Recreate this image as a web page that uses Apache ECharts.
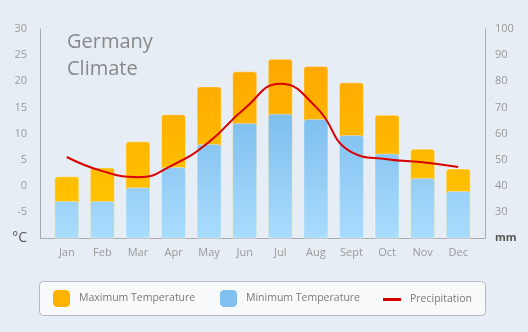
<!DOCTYPE html>
<html>
<head>
<meta charset="utf-8">
<script src="https://cdn.jsdelivr.net/npm/echarts@6/dist/echarts.min.js"></script>
<style>
html,body{margin:0;padding:0;background:#e6edf5;}
#c{width:528px;height:332px;}
</style>
</head>
<body>
<div id="c"></div>
<script>
var months = ['Jan','Feb','Mar','Apr','May','Jun','Jul','Aug','Sept','Oct','Nov','Dec'];
var maxTemp = [1.7, 3.4, 8.4, 13.6, 18.9, 21.8, 24.2, 22.8, 19.7, 13.5, 7.0, 3.2];
var minTemp = [-3.0, -3.0, -0.4, 3.5, 7.9, 11.9, 13.7, 12.7, 9.6, 6.1, 1.4, -1.1];
var precip = [51, 45.6, 43.3, 48.1, 56.8, 69.6, 79, 70.2, 52.9, 50.1, 49, 47.2];
var tempTicks = {min: -10, max: 30, interval: 5};
var precipTicks = {min: 20, max: 100, interval: 10};

var chart = echarts.init(document.getElementById('c'), null, {renderer: 'canvas'});
var FONT = '"Open Sans", sans-serif';

function grad(top, bottom) {
  return new echarts.graphic.LinearGradient(0, 29, 0, 238, [
    {offset: 0, color: top}, {offset: 1, color: bottom}
  ], true);
}
var ORANGE = ['#ffa200', '#ffc900'];
var BLUE = ['#5fa9e3', '#a9dcfd'];

function barRenderer(colors) {
  return function (params, api) {
    var top = api.coord([api.value(0), api.value(1)]);
    var base = api.coord([api.value(0), tempTicks.min]);
    var w = 24;
    return {
      type: 'rect',
      shape: {x: top[0] - w / 2, y: top[1], width: w, height: base[1] - top[1], r: [3, 3, 0, 0]},
      style: {fill: grad(colors[0], colors[1]), stroke: 'rgba(255,255,255,0.35)', lineWidth: 1}
    };
  };
}

var legendCommon = {
  orient: 'horizontal', top: 290, itemHeight: 17, itemWidth: 17, padding: 0,
  textStyle: {color: '#7a7a7a', fontSize: 10.5, fontFamily: FONT, padding: [0, 0, 0, 4]},
  selectedMode: false
};

var axisLineStyle = {color: '#a9abae', width: 1};

chart.setOption({
  backgroundColor: '#e6edf5',
  animation: false,
  textStyle: {fontFamily: FONT},
  title: {
    text: 'Germany\nClimate', left: 67, top: 29, padding: 0,
    textStyle: {color: '#888', fontSize: 20, fontWeight: 'normal', lineHeight: 27, fontFamily: FONT}
  },
  graphic: [{
    type: 'rect', left: 39, top: 281, z: -1,
    shape: {width: 446, height: 34, r: 4},
    style: {fill: '#f8f9fb', stroke: '#b5bac1', lineWidth: 1}
  }],
  legend: [
    Object.assign({}, legendCommon, {left: 53,
      data: [{name: 'Maximum Temperature', icon: 'roundRect', itemStyle: {color: '#ffb300'}}]}),
    Object.assign({}, legendCommon, {left: 220,
      data: [{name: 'Minimum Temperature', icon: 'roundRect', itemStyle: {color: '#7fc0ee'}}]}),
    Object.assign({}, legendCommon, {left: 383, itemWidth: 18, itemHeight: 3, top: 294,
      data: [{name: 'Precipitation', icon: 'rect', itemStyle: {color: '#d90000'}}]})
  ],
  grid: [
    {left: 40, right: 43, top: 29, bottom: 94, containLabel: false},
    {left: 49, right: 52, top: 29, bottom: 94, containLabel: false}
  ],
  xAxis: [{
    gridIndex: 0, type: 'category', data: months,
    axisLine: {onZero: false, lineStyle: axisLineStyle},
    axisTick: {show: false}, axisLabel: {show: false}
  }, {
    gridIndex: 1, type: 'category', data: months,
    axisLine: {show: false},
    axisTick: {show: false},
    axisLabel: {color: '#999', fontSize: 11, margin: 9, fontFamily: FONT, interval: 0}
  }],
  yAxis: [{
    gridIndex: 0, type: 'value', min: tempTicks.min, max: tempTicks.max, interval: tempTicks.interval,
    axisLine: {show: true, lineStyle: axisLineStyle},
    axisTick: {show: false}, splitLine: {show: false},
    axisLabel: {
      color: '#999', fontSize: 11, margin: 13, fontFamily: FONT,
      formatter: function (v) { return v === tempTicks.min ? '{u|°C}' : String(v); },
      rich: {u: {fontSize: 14, color: '#555', fontFamily: FONT}}
    }
  }, {
    gridIndex: 0, type: 'value', min: precipTicks.min, max: precipTicks.max, interval: precipTicks.interval,
    axisLine: {show: true, lineStyle: axisLineStyle},
    axisTick: {show: false}, splitLine: {show: false},
    axisLabel: {
      color: '#999', fontSize: 11, margin: 10, fontFamily: FONT,
      formatter: function (v) { return v === precipTicks.min ? '{u|mm}' : String(v); },
      rich: {u: {fontSize: 11, color: '#555', fontWeight: 'bold', fontFamily: FONT}}
    }
  }, {
    gridIndex: 1, type: 'value', min: tempTicks.min, max: tempTicks.max, interval: tempTicks.interval,
    show: false
  }, {
    gridIndex: 1, type: 'value', min: precipTicks.min, max: precipTicks.max, interval: precipTicks.interval,
    show: false
  }],
  series: [{
    name: 'Maximum Temperature', type: 'custom', renderItem: barRenderer(ORANGE),
    xAxisIndex: 1, yAxisIndex: 2,
    data: maxTemp.map(function (v, i) { return [i, v]; }),
    encode: {x: 0, y: 1}, itemStyle: {color: '#ffb300'}, z: 2
  }, {
    name: 'Minimum Temperature', type: 'custom', renderItem: barRenderer(BLUE),
    xAxisIndex: 1, yAxisIndex: 2,
    data: minTemp.map(function (v, i) { return [i, v]; }),
    encode: {x: 0, y: 1}, itemStyle: {color: '#7fc0ee'}, z: 3
  }, {
    name: 'Precipitation', type: 'line', xAxisIndex: 1, yAxisIndex: 3, data: precip, smooth: 0.5,
    showSymbol: false, symbol: 'none', z: 5,
    lineStyle: {color: '#d90000', width: 2},
    itemStyle: {color: '#d90000'}
  }]
});
</script>
</body>
</html>
